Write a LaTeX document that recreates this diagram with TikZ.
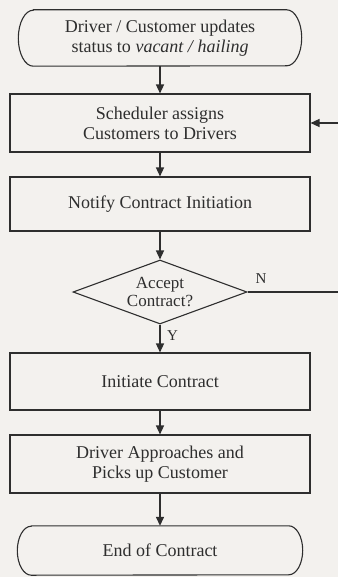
\documentclass[tikz,border=0pt]{standalone}
\usepackage{fontspec}
\setmainfont{Liberation Serif}
\usetikzlibrary{arrows.meta,shapes.geometric}
\definecolor{bg}{HTML}{F3F1EE}
\definecolor{ink}{HTML}{2E2E2E}
\begin{document}
\begin{tikzpicture}[x=1pt,y=1pt,
  every node/.style={font=\fontsize{18}{20}\selectfont, text=ink, align=center},
  procbox/.style={draw=ink, line width=1.1pt, minimum width=300pt, inner sep=0pt},
  termnode/.style={inner sep=0pt},
  term/.style={draw=ink, line width=1.1pt},
  decbox/.style={diamond, draw=ink, line width=1.1pt, inner sep=0pt, minimum width=174pt, minimum height=64pt, aspect=2.7, font=\fontsize{17}{18}\selectfont},
  flow/.style={draw=ink, line width=1.4pt, -{Triangle[length=9pt,width=8pt]}},
  plainline/.style={draw=ink, line width=1.4pt},
  lbl/.style={font=\fontsize{15}{16}\selectfont}
]
\fill[bg] (0,0) rectangle (338,-577);
\useasboundingbox (0,0) rectangle (338,-577);

\node[termnode, minimum width=283pt, minimum height=56pt] (start) at (160,-38) {Driver / Customer updates\\status to \textit{vacant / hailing}};
\draw[term] ([xshift=15pt]start.north west) -- ([xshift=-15pt]start.north east)
  arc[start angle=90,end angle=-90,x radius=15pt,y radius=28pt]
  -- ([xshift=15pt]start.south west)
  arc[start angle=270,end angle=90,x radius=15pt,y radius=28pt] -- cycle;

\node[procbox, minimum height=58pt] (sched) at (160,-123) {Scheduler assigns\\Customers to Drivers};
\node[procbox, minimum height=54pt] (notify) at (160,-204) {Notify Contract Initiation};
\node[decbox] (dec) at (160,-292) {Accept\\Contract?};
\node[procbox, minimum height=57pt] (init) at (160,-381.5) {Initiate Contract};
\node[procbox, minimum height=58pt] (pick) at (160,-464) {Driver Approaches and\\Picks up Customer};

\node[termnode, minimum width=285pt, minimum height=49pt] (stop) at (160,-550.5) {End of Contract};
\draw[term] ([xshift=14pt]stop.north west) -- ([xshift=-14pt]stop.north east)
  arc[start angle=90,end angle=-90,x radius=14pt,y radius=24.5pt]
  -- ([xshift=14pt]stop.south west)
  arc[start angle=270,end angle=90,x radius=14pt,y radius=24.5pt] -- cycle;

\coordinate (nout) at (338,-292);
\coordinate (nin) at (338,-123);

\draw[flow] (start.south) -- (sched.north);
\draw[flow] (sched.south) -- (notify.north);
\draw[flow] (notify.south) -- (dec.north);
\draw[flow] (dec.south) -- node[lbl, right, pos=0.4, xshift=3pt] {Y} (init.north);
\draw[flow] (init.south) -- (pick.north);
\draw[flow] (pick.south) -- (stop.north);
\draw[plainline] (dec.east) -- node[lbl, above, pos=0.15, yshift=4pt] {N} (nout);
\draw[flow] (nin) -- (sched.east);
\end{tikzpicture}
\end{document}
